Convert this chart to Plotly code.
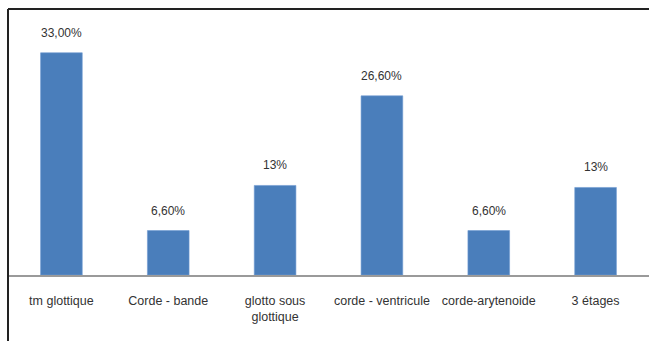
import plotly.graph_objects as go

categories = ["tm glottique", "Corde - bande", "glotto sous<br>glottique",
              "corde - ventricule", "corde-arytenoide", "3 étages"]
values = [33.0, 6.6, 13.3, 26.6, 6.6, 13.0]
value_labels = ["33,00%", "6,60%", "13%", "26,60%", "6,60%", "13%"]

fig = go.Figure()
fig.add_trace(go.Bar(
    x=categories, y=values,
    marker=dict(color="#4a7ebb", line=dict(color="#6f9bd1", width=0.6)),
    width=0.39,
))

for c, v, t in zip(categories, values, value_labels):
    fig.add_annotation(x=c, y=v, text=t, showarrow=False, yanchor="bottom",
                       yshift=11, font=dict(family="Liberation Sans", size=12, color="#333333"))

fig.update_layout(
    width=649, height=341,
    margin=dict(l=8, r=0, t=9, b=66),
    paper_bgcolor="white", plot_bgcolor="white",
    showlegend=False,
    bargap=0.6,
    xaxis=dict(showline=True, linecolor="#9a9a9a", linewidth=1.5,
               ticks="outside", ticklen=13, tickcolor="rgba(0,0,0,0)",
               tickfont=dict(family="Liberation Sans", size=12.5, color="#333333"),
               showgrid=False, zeroline=False, fixedrange=True),
    yaxis=dict(range=[0, 39.5], visible=False, showgrid=False, zeroline=False),
    shapes=[
        dict(type="line", xref="paper", yref="paper", x0=0, x1=1, y0=1, y1=1,
             line=dict(color="#222222", width=2)),
        dict(type="line", xref="paper", yref="paper", x0=0, x1=0, y0=-0.3, y1=1,
             line=dict(color="#222222", width=2)),
    ],
)

fig.write_html("out.html")
